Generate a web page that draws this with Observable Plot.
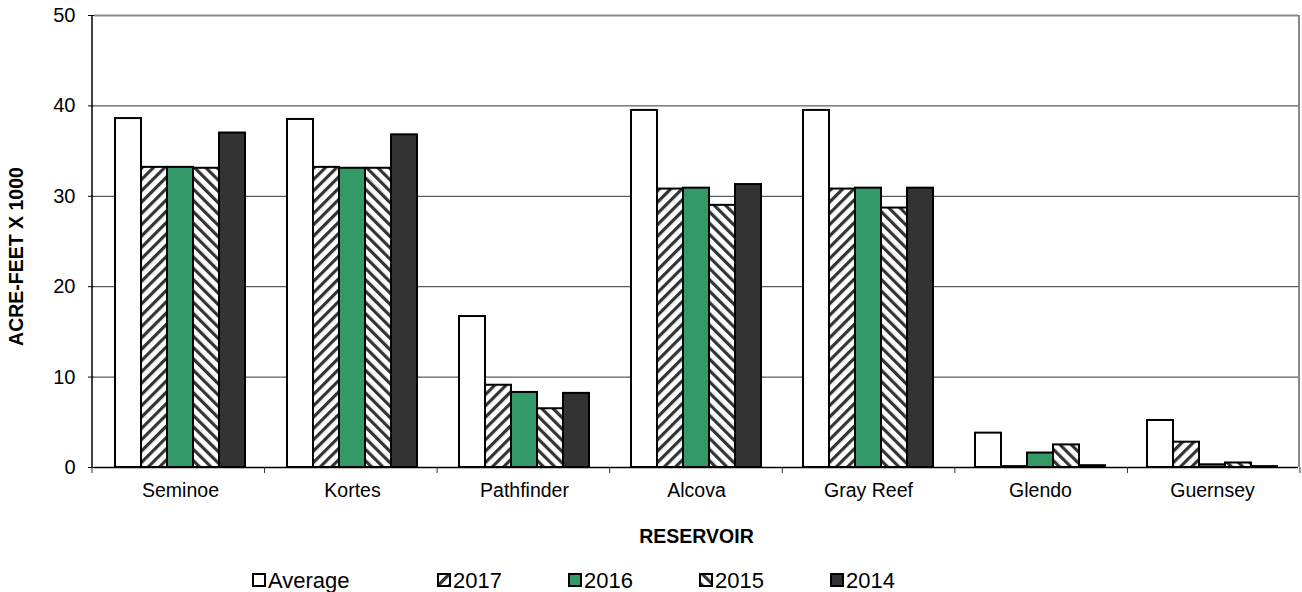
<!DOCTYPE html>
<html>
<head>
<meta charset="utf-8">
<script src="https://cdn.jsdelivr.net/npm/d3@7"></script>
<script src="https://cdn.jsdelivr.net/npm/@observablehq/plot@0.6"></script>
<style>
  body { margin: 0; background: #fff; font-family: "Liberation Sans", Arial, sans-serif; }
  #legend { display: flex; align-items: center; height: 37px; padding-top: 7px; padding-left: 252px; font-size: 22px; color: #000; }
  #legend .item { display: flex; align-items: center; }
  #legend svg { margin-right: 1px; }
</style>
</head>
<body>
<svg width="0" height="0" style="position:absolute">
  <defs>
    <pattern id="h2017" patternUnits="userSpaceOnUse" width="8" height="8" patternTransform="rotate(45)">
      <rect width="8" height="8" fill="white"></rect>
      <rect x="0" y="0" width="3.2" height="8" fill="#333"></rect>
    </pattern>
    <pattern id="h2015" patternUnits="userSpaceOnUse" width="8" height="8" patternTransform="rotate(-45)">
      <rect width="8" height="8" fill="white"></rect>
      <rect x="0" y="0" width="3.2" height="8" fill="#333"></rect>
    </pattern>
  </defs>
</svg>
<div id="chart"></div>
<div id="legend"></div>
<script>
const reservoirs = ["Seminoe", "Kortes", "Pathfinder", "Alcova", "Gray Reef", "Glendo", "Guernsey"];
const series = ["Average", "2017", "2016", "2015", "2014"];
const average = [38.6, 38.5, 16.7, 39.5, 39.5, 3.8, 5.2];
const y2017   = [33.2, 33.2, 9.1, 30.8, 30.8, 0.1, 2.8];
const y2016   = [33.2, 33.1, 8.3, 30.9, 30.9, 1.6, 0.3];
const y2015   = [33.1, 33.1, 6.5, 29.0, 28.7, 2.5, 0.5];
const y2014   = [37.0, 36.8, 8.2, 31.3, 30.9, 0.2, 0.1];
const yTicks = [0, 10, 20, 30, 40, 50];
const fills = ["white", "url(#h2017)", "#339966", "url(#h2015)", "#333333"];

const seriesValues = [average, y2017, y2016, y2015, y2014];
const data = [];
reservoirs.forEach((r, i) => series.forEach((s, j) => data.push({reservoir: r, series: s, value: seriesValues[j][i]})));

const font = '"Liberation Sans", Arial, sans-serif';
const plot = Plot.plot({
  width: 1302,
  height: 555,
  marginLeft: 92,
  marginRight: 2,
  marginTop: 15,
  marginBottom: 88,
  style: {fontFamily: font, color: "#000", background: "white"},
  fx: {domain: reservoirs, padding: 0},
  x: {domain: series, paddingInner: 0, paddingOuter: 0.7, axis: null},
  y: {domain: [0, 50]},
  color: {domain: series, range: fills},
  marks: [
    Plot.ruleY([10, 20, 30, 40], {stroke: "#333", strokeWidth: 1}),
    Plot.ruleY([50], {stroke: "#888", strokeWidth: 2}),
    Plot.barY(data, {fx: "reservoir", x: "series", y: "value", fill: "series", stroke: "black", strokeWidth: 2}),
    Plot.ruleY([0], {stroke: "black", strokeWidth: 1.5}),
    Plot.axisY({ticks: yTicks, tickSize: 6, tickPadding: 13, fontSize: 20, label: "ACRE-FEET X 1000", labelAnchor: "center", labelOffset: 85, labelArrow: "none"}),
    Plot.axisFx({anchor: "bottom", tickSize: 0, tickPadding: 16, fontSize: 19.5, label: "RESERVOIR", labelAnchor: "center", labelOffset: 75, labelArrow: "none"})
  ]
});
document.getElementById("chart").appendChild(plot);

// bold axis labels
const svg = d3.select(plot);
svg.selectAll('g[aria-label="y-axis label"], g[aria-label="fx-axis label"]').attr("font-weight", "bold").attr("font-size", 19.5);
const yl = svg.select('g[aria-label="y-axis label"]');
if (!yl.empty()) yl.attr("transform", (yl.attr("transform") || "") + " translate(0,15)");

// frame lines and category boundary ticks, from the scales
const fx = plot.scale("fx");
const ys = plot.scale("y");
const x0 = fx.range[0], x1 = fx.range[1];
const step = (x1 - x0) / reservoirs.length;
const yb = ys.apply(0), yt = ys.apply(50);
const g = svg.append("g");
g.append("line").attr("x1", x1 - 1).attr("x2", x1 - 1).attr("y1", yt).attr("y2", yb).attr("stroke", "#888").attr("stroke-width", 2);
g.append("line").attr("x1", x0).attr("x2", x0).attr("y1", yt).attr("y2", yb + 1).attr("stroke", "black").attr("stroke-width", 1.5);
d3.range(reservoirs.length + 1).forEach(i => {
  const x = x0 + i * step;
  g.append("line").attr("x1", x).attr("x2", x).attr("y1", yb).attr("y2", yb + 6).attr("stroke", "#333").attr("stroke-width", 1);
});

// legend
const widths = [185, 131, 131, 131, 131];
const legend = d3.select("#legend");
series.forEach((s, j) => {
  const item = legend.append("div").attr("class", "item").style("width", widths[j] + "px");
  const sw = item.append("svg").attr("width", 15).attr("height", 15);
  sw.append("rect").attr("x", 1).attr("y", 1).attr("width", 12).attr("height", 12).attr("fill", fills[j]).attr("stroke", "black").attr("stroke-width", 2);
  item.append("span").text(s);
});
</script>
</body>
</html>
